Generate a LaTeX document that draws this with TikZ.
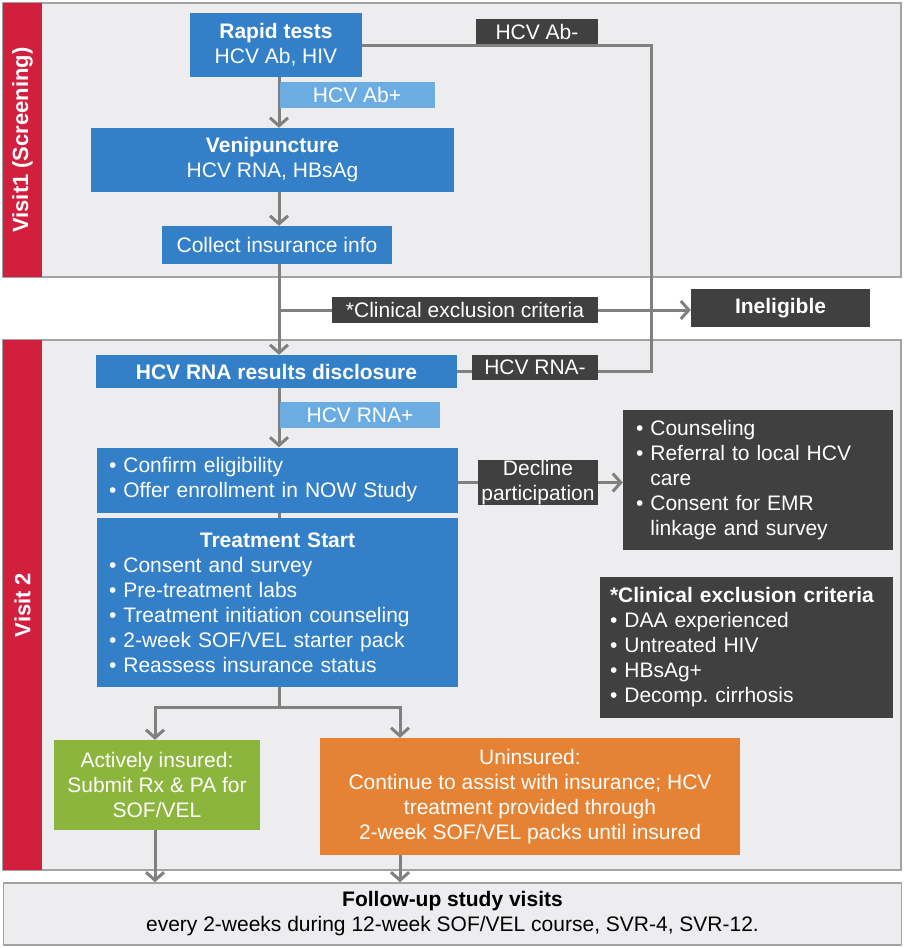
\documentclass[tikz,border=0pt]{standalone}
\usepackage{fontspec}
\setmainfont{Liberation Sans}
\usetikzlibrary{arrows.meta}
\definecolor{ttqqcc}{rgb}{0.2,0.5,0.79}
\definecolor{qqccff}{rgb}{0.42,0.68,0.89}
\definecolor{wwwwww}{rgb}{0.25,0.25,0.25}
\definecolor{sqsqsq}{rgb}{0.5,0.5,0.5}
\definecolor{eeeeee}{rgb}{0.93,0.93,0.94}
\definecolor{aaaaaa}{rgb}{0.64,0.64,0.64}
\definecolor{dcqqtt}{rgb}{0.82,0.12,0.24}
\definecolor{ttccqq}{rgb}{0.55,0.71,0.24}
\definecolor{ffttqq}{rgb}{0.90,0.51,0.20}
\pgfdeclarelayer{panels}
\pgfdeclarelayer{links}
\pgfsetlayers{panels,links,main}

\begin{document}
\begin{tikzpicture}[line cap=round,line join=round,>={Straight Barb[length=8pt,width=18pt,line width=3pt]},x=1pt,y=-1pt,
  txt/.style={font=\fontsize{21}{25}\selectfont,text=white,inner sep=0pt},
  bluebox/.style={txt,fill=ttqqcc,align=center},
  lightlbl/.style={txt,fill=qqccff},
  darkbox/.style={txt,fill=wwwwww,align=center},
  panel/.style={fill=eeeeee,draw=aaaaaa,line width=1.5pt},
  conn/.style={draw=sqsqsq,line width=3pt,line cap=butt,line join=miter},
  barlabel/.style={rotate=90,text=white,font=\fontsize{22}{26}\selectfont\bfseries}]
\useasboundingbox (0,0) rectangle (903,948);
% boxes
\node[bluebox,minimum width=172,minimum height=64] (rapid) at (276,45) {\textbf{Rapid tests}\\HCV Ab, HIV};
\node[lightlbl,minimum width=155,minimum height=26] (abpos) at (357,95) {HCV Ab+};
\node[darkbox,minimum width=122,minimum height=25] (abneg) at (537,31.5) {HCV Ab-};
\node[bluebox,minimum width=363,minimum height=64] (veni) at (272.5,160) {\textbf{Venipuncture}\\HCV RNA, HBsAg};
\node[bluebox,minimum width=230,minimum height=38] (collect) at (277,245) {Collect insurance info};
\node[darkbox,minimum width=266,minimum height=26] (excl) at (465,310) {*Clinical exclusion criteria};
\node[darkbox,minimum width=179,minimum height=38] (inel) at (780.5,308) {\textbf{Ineligible}};
\node[bluebox,minimum width=361,minimum height=33] (rna) at (276.5,371.5) {\textbf{HCV RNA results disclosure}};
\node[darkbox,minimum width=126,minimum height=25] (rnaneg) at (535,367.5) {HCV RNA-};
\node[lightlbl,minimum width=160,minimum height=26] (rnapos) at (360,415) {HCV RNA+};
\node[bluebox,align=left,text width=337,inner xsep=12,minimum height=65] (confirm) at (277.5,480) {• Confirm eligibility\\• Offer enrollment in NOW Study};
\node[darkbox,minimum width=120,minimum height=45] (decline) at (538,482.5) {Decline\\participation};
\node[darkbox,align=left,text width=244,inner xsep=13,minimum height=140] (couns) at (758,480) {• Counseling\\• Referral to local HCV\\\phantom{• }care\\• Consent for EMR\\\phantom{• }linkage and survey};
\node[bluebox,align=left,text width=337,inner xsep=12,minimum height=169] (treat) at (277.5,602.5) {\makebox[\linewidth]{\textbf{Treatment Start}}\\• Consent and survey\\• Pre-treatment labs\\• Treatment initiation counseling\\• 2-week SOF/VEL starter pack\\• Reassess insurance status};
\node[darkbox,align=left,text width=273,inner xsep=10,minimum height=141] (crit) at (746.5,647.5) {\textbf{*Clinical exclusion criteria}\\• DAA experienced\\• Untreated HIV\\• HBsAg+\\• Decomp.\ cirrhosis};
\node[txt,fill=ttccqq,align=center,minimum width=206,minimum height=90] (insured) at (157,785) {Actively insured:\\Submit Rx \& PA for\\SOF/VEL};
\node[txt,fill=ffttqq,align=center,minimum width=420,minimum height=117] (uninsured) at (530,796.5) {Uninsured:\\Continue to assist with insurance; HCV\\treatment provided through\\2-week SOF/VEL packs until insured};
\node[txt,text=black,fill=eeeeee,draw=aaaaaa,line width=1.5pt,align=center,minimum width=898,minimum height=62] (follow) at (452.5,914) {\textbf{Follow-up study visits}\\every 2-weeks during 12-week SOF/VEL course, SVR-4, SVR-12.};
% visit panels
\begin{pgfonlayer}{panels}
\draw[panel] (3,3) rectangle (901,277);
\fill[dcqqtt] (3,3) rectangle (42,277);
\draw[panel] (3,340) rectangle (901,870);
\fill[dcqqtt] (3,340) rectangle (42,870);
\end{pgfonlayer}
\node[barlabel] (visitone) at (22.5,140) {Visit1 (Screening)};
\node[barlabel] (visittwo) at (22.5,605) {Visit 2};
% connectors
\coordinate (col) at (279,0);
\coordinate (back) at (651,0);
\coordinate (splitL) at (155,707);
\coordinate (splitR) at (400,707);
\begin{pgfonlayer}{links}
\draw[conn,->] (rapid.south -| col) -- (veni.north -| col);
\draw[conn,->] (veni.south -| col) -- (collect.north -| col);
\draw[conn,->] (collect.south -| col) -- (rna.north -| col);
\draw[conn] (excl.west -| col) -- (excl.west);
\draw[conn,->] (excl.east) -- (excl.east -| inel.west);
\draw[conn] (rapid.east) -- (rapid.east -| back) -- (rna.east -| back) -- (rna.east);
\draw[conn,->] (rna.south -| col) -- (confirm.north -| col);
\draw[conn] (decline.west -| confirm.east) -- (decline.west);
\draw[conn,->] (decline.east) -- (decline.east -| couns.west);
\draw[conn] (confirm.south -| col) -- (treat.north -| col);
\draw[conn] (treat.south -| col) -- (col |- splitL);
\draw[conn,->] (col |- splitL) -- (splitL) -- (splitL |- insured.north);
\draw[conn,->] (col |- splitR) -- (splitR) -- (splitR |- uninsured.north);
\draw[conn,->] (insured.south -| splitL) -- (splitL |- follow.north);
\draw[conn,->] (uninsured.south -| splitR) -- (splitR |- follow.north);
\end{pgfonlayer}
\end{tikzpicture}
\end{document}
